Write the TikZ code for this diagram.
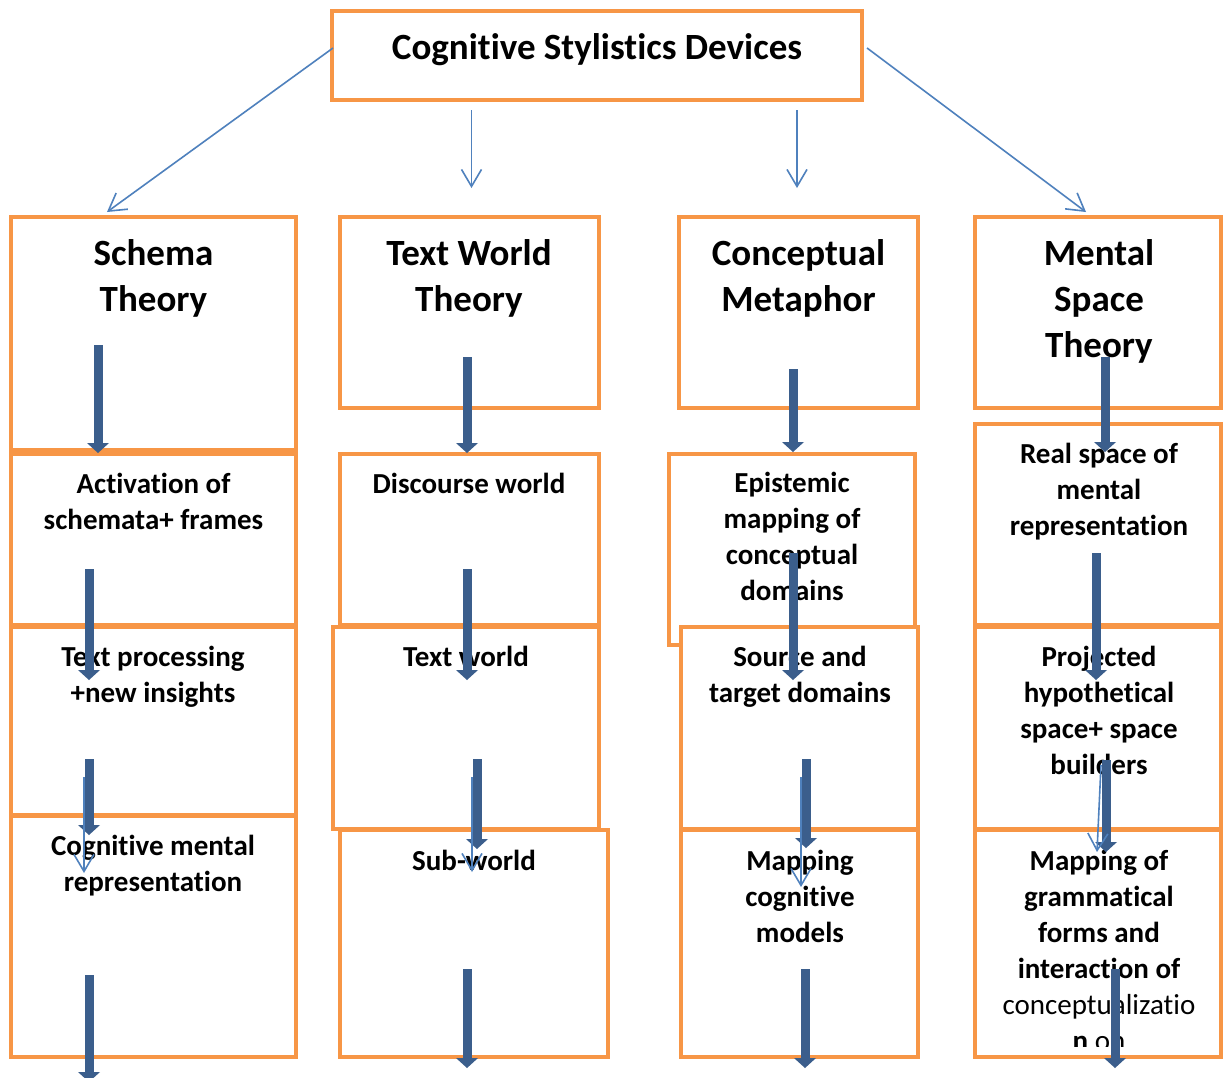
\documentclass[tikz,border=0pt]{standalone}
\usepackage{fontspec}
\setmainfont[Ligatures={NoCommon}]{Carlito}
\usetikzlibrary{arrows.meta}
\definecolor{boxorange}{HTML}{F79646}
\definecolor{thinblue}{HTML}{4F81BD}
\definecolor{thickblue}{HTML}{3B5E8C}
\newcommand\hstrut{\rule{0pt}{36pt}}
\newcommand\lstrut{\rule{0pt}{30pt}}
\newcommand\tarr[4]{\coordinate (#1s) at (#2,#3); \coordinate (#1e) at (#2,#4); \draw[tarrow] (#1s) -- (#1e);}
\newcommand\narr[5]{\coordinate (#1s) at (#2,#3); \coordinate (#1e) at (#4,#5); \draw[narrow] (#1s) -- (#1e);}
\begin{document}
\begin{tikzpicture}[x=1pt,y=-1pt,
  box/.style={draw=boxorange, line width=4pt, fill=white, rectangle, inner sep=0pt, outer sep=0pt, anchor=north west},
  ttl/.style={inner sep=0pt, anchor=north, align=center, font=\bfseries\fontsize{37}{45}\selectfont},
  hd/.style={inner sep=0pt, anchor=north, align=center, font=\bfseries\fontsize{37}{46}\selectfont},
  lb/.style={inner sep=0pt, anchor=north, align=center, font=\bfseries\fontsize{29}{36}\selectfont},
  tarrow/.style={thickblue, line width=9pt, -{Triangle[width=22pt,length=10pt,line width=0pt]}},
  narrow/.style={thinblue, line width=1.6pt, -{Straight Barb[length=17pt,width=20pt]}}]
\fill[white] (0,0) rectangle (1223,1077);
\clip (0,0) rectangle (1223,1077);
% boxes
\node[box, minimum width=530pt, minimum height=89pt] (top) at (332,11) {};
\node[box, minimum width=285pt, minimum height=233pt] (b1) at (11,217) {};
\node[box, minimum width=259pt, minimum height=191pt] (b2) at (340,217) {};
\node[box, minimum width=239pt, minimum height=191pt] (b3) at (679,217) {};
\node[box, minimum width=246pt, minimum height=191pt] (b4) at (975,217) {};
\node[box, minimum width=285pt, minimum height=171pt] (c1) at (11,454) {};
\node[box, minimum width=259pt, minimum height=171pt] (c2) at (340,454) {};
\node[box, minimum width=246pt, minimum height=191pt] (c3) at (669,454) {};
\node[box, minimum width=246pt, minimum height=201pt] (c4) at (975,424) {};
\node[box, minimum width=285pt, minimum height=188pt] (d1) at (11,627) {};
\node[box, minimum width=266pt, minimum height=202pt] (d2) at (333,627) {};
\node[box, minimum width=237pt, minimum height=202pt] (d3) at (681,627) {};
\node[box, minimum width=246pt, minimum height=202pt] (d4) at (975,627) {};
\node[box, minimum width=285pt, minimum height=241pt] (e1) at (11,816) {};
\node[box, minimum width=268pt, minimum height=227pt] (e2) at (340,830) {};
\node[box, minimum width=237pt, minimum height=227pt] (e3) at (681,830) {};
\node[box, minimum width=246pt, minimum height=227pt] (e4) at (975,830) {};
% texts
\node[ttl] (ttop) at (597,23) {\hstrut Cognitive Stylistics Devices};
\node[hd] (tb1) at (153.5,229) {\hstrut Schema\\Theory};
\node[hd] (tb2) at (469,229) {\hstrut Text World\\Theory};
\node[hd] (tb3) at (798.5,229) {\hstrut Conceptual\\Metaphor};
\node[hd] (tb4) at (1099,229) {\hstrut Mental\\Space\\Theory};
\node[lb] (tc1) at (153.5,463) {\lstrut Activation of\\schemata+ frames};
\node[lb] (tc2) at (469,463) {\lstrut Discourse world};
\node[lb] (tc3) at (792,462) {\lstrut Epistemic\\mapping of\\conceptual\\domains};
\node[lb] (tc4) at (1099,433) {\lstrut Real space of\\mental\\representation};
\node[lb] (td1) at (153,636) {\lstrut Text processing\\+new insights};
\node[lb] (td2) at (466,636) {\lstrut Text world};
\node[lb] (td3) at (800,636) {\lstrut Source and\\target domains};
\node[lb] (td4) at (1099,636) {\lstrut Projected\\hypothetical\\space+ space\\builders};
\node[lb] (te1) at (153,825) {\lstrut Cognitive mental\\representation};
\node[lb] (te2) at (474,840) {\lstrut Sub-world};
\node[lb] (te3) at (800,840) {\lstrut Mapping\\cognitive\\models};
\begin{scope}
\clip (975,830) rectangle (1221,1046);
\node[lb] (te4) at (1099,840) {\lstrut Mapping of\\grammatical\\forms and\\interaction of\\{\mdseries conceptualizatio}\\n {\mdseries on}};
\end{scope}
% thin arrows from title
\narr{na1}{333}{48}{107}{212}
\narr{na2}{471.5}{110}{471.5}{188}
\narr{na3}{797}{110}{797}{188}
\narr{na4}{867}{48}{1086}{212}
% thick arrows
\tarr{ta1}{98}{345}{453}
\tarr{ta2}{89}{569}{680}
\tarr{ta3}{89}{759}{835}
\tarr{ta4}{89}{975}{1082}
\tarr{tb1}{467}{357}{453}
\tarr{tb2}{467}{569}{680}
\tarr{tb3}{477}{759}{849}
\tarr{tb4}{467}{969}{1068}
\tarr{tc1}{793}{369}{452}
\tarr{tc2}{793}{553}{680}
\tarr{tc3}{806}{759}{848}
\tarr{tc4}{805}{969}{1068}
\tarr{td1}{1105}{357}{452}
\tarr{td2}{1096}{553}{680}
\tarr{td3}{1106}{760}{852}
\tarr{td4}{1115}{969}{1068}
% thin arrows over thick ones
\narr{nb1}{84}{777}{84}{873}
\narr{nb2}{472}{777}{472}{872}
\narr{nb3}{801}{777}{801}{887}
\narr{nb4}{1101}{765}{1097}{852}
\end{tikzpicture}
\end{document}
